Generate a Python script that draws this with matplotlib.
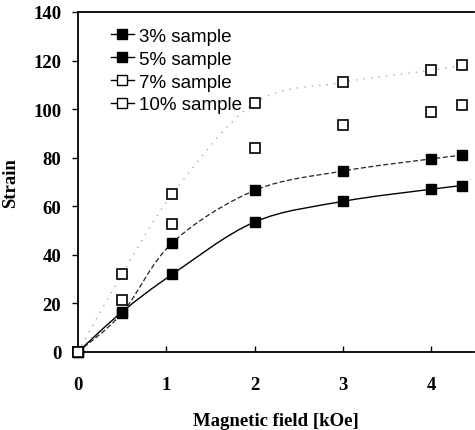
import numpy as np
from matplotlib import pyplot as plt
from matplotlib.path import Path
from matplotlib.patches import PathPatch
from matplotlib.lines import Line2D

# values
field = [0, 0.5, 1.07, 2.0, 3.0, 4.0, 4.35]
strain_3 = [0, 16.5, 32, 53.5, 62, 67, 68.5]
strain_5 = [0, 16, 45, 66.5, 74.5, 79.5, 81]
strain_7 = [0, 32, 65, 102.5, 111, 116, 118]
strain_10 = [0, 21.5, 52.5, 84, 93.5, 99, 101.5]
labels = ["3% sample", "5% sample", "7% sample", "10% sample"]
x_ticks = [0, 1, 2, 3, 4]
y_ticks = [0, 20, 40, 60, 80, 100, 120, 140]


def smooth_path(xs, ys):
    # catmull-rom style bezier through the points (like a smoothed line)
    pts = np.column_stack([xs, ys]).astype(float)
    verts = [pts[0]]
    codes = [Path.MOVETO]
    for i in range(len(pts) - 1):
        p0 = pts[i - 1] if i > 0 else pts[i]
        p1 = pts[i]
        p2 = pts[i + 1]
        p3 = pts[i + 2] if i + 2 < len(pts) else pts[i + 1]
        c1 = p1 + (p2 - p0) / 6.0
        c2 = p2 - (p3 - p1) / 6.0
        verts += [c1, c2, p2]
        codes += [Path.CURVE4] * 3
    return Path(verts, codes)


plt.rcParams['font.family'] = ['Liberation Serif', 'DejaVu Serif']

fig = plt.figure(figsize=(4.75, 4.31), dpi=100)
ax = fig.add_axes([0.164, 0.181, 0.833, 0.789])

line_styles = [
    dict(color='black', lw=1.0, ls='-'),
    dict(color='#222222', lw=0.9, ls=(0, (4, 2))),
    dict(color='#999999', lw=0.9, ls=(0, (1, 5))),
]
for ys, st in zip([strain_3, strain_5, strain_7], line_styles):
    ax.add_patch(PathPatch(smooth_path(field, ys), fill=False, zorder=2, **st))

ms = 7.5
ax.plot(field, strain_3, ls='none', marker='s', ms=ms, mfc='black', mec='black', zorder=3, clip_on=False)
ax.plot(field, strain_5, ls='none', marker='s', ms=ms, mfc='black', mec='black', zorder=3, clip_on=False)
ax.plot(field, strain_7, ls='none', marker='s', ms=ms, mfc='white', mec='black', mew=1.2, zorder=4, clip_on=False)
ax.plot(field, strain_10, ls='none', marker='s', ms=ms, mfc='white', mec='black', mew=1.2, zorder=4, clip_on=False)

ax.set_xlim(0, 4.48)
ax.set_ylim(0, 140)
ax.set_xticks(x_ticks)
ax.set_yticks(y_ticks)
ax.tick_params(axis='y', direction='out', length=4, width=1, labelsize=13.5, pad=8)
ax.tick_params(axis='x', direction='in', length=4, width=1, labelsize=13.5, pad=17)
for lab in ax.get_xticklabels() + ax.get_yticklabels():
    lab.set_fontweight('bold')

ax.spines['right'].set_visible(False)
for s in ['left', 'bottom', 'top']:
    ax.spines[s].set_linewidth(1.3)

ax.set_xlabel("Magnetic field [kOe]", fontsize=13.5, fontweight='bold', labelpad=14)
ax.set_ylabel("Strain", fontsize=13.5, fontweight='bold', labelpad=10)

handles = [
    Line2D([], [], color='black', lw=1, marker='s', ms=ms, mfc='black', mec='black'),
    Line2D([], [], color='black', lw=1, marker='s', ms=ms, mfc='black', mec='black'),
    Line2D([], [], color='black', lw=1, marker='s', ms=ms, mfc='white', mec='black'),
    Line2D([], [], color='black', lw=1, marker='s', ms=ms, mfc='white', mec='black'),
]
ax.legend(handles, labels, loc='upper left', bbox_to_anchor=(0.065, 0.975), frameon=False,
          prop={'family': 'Liberation Sans', 'size': 13.5}, handlelength=1.2,
          handletextpad=0.3, labelspacing=0.3, borderaxespad=0)

fig.savefig("out.png", dpi=100)
